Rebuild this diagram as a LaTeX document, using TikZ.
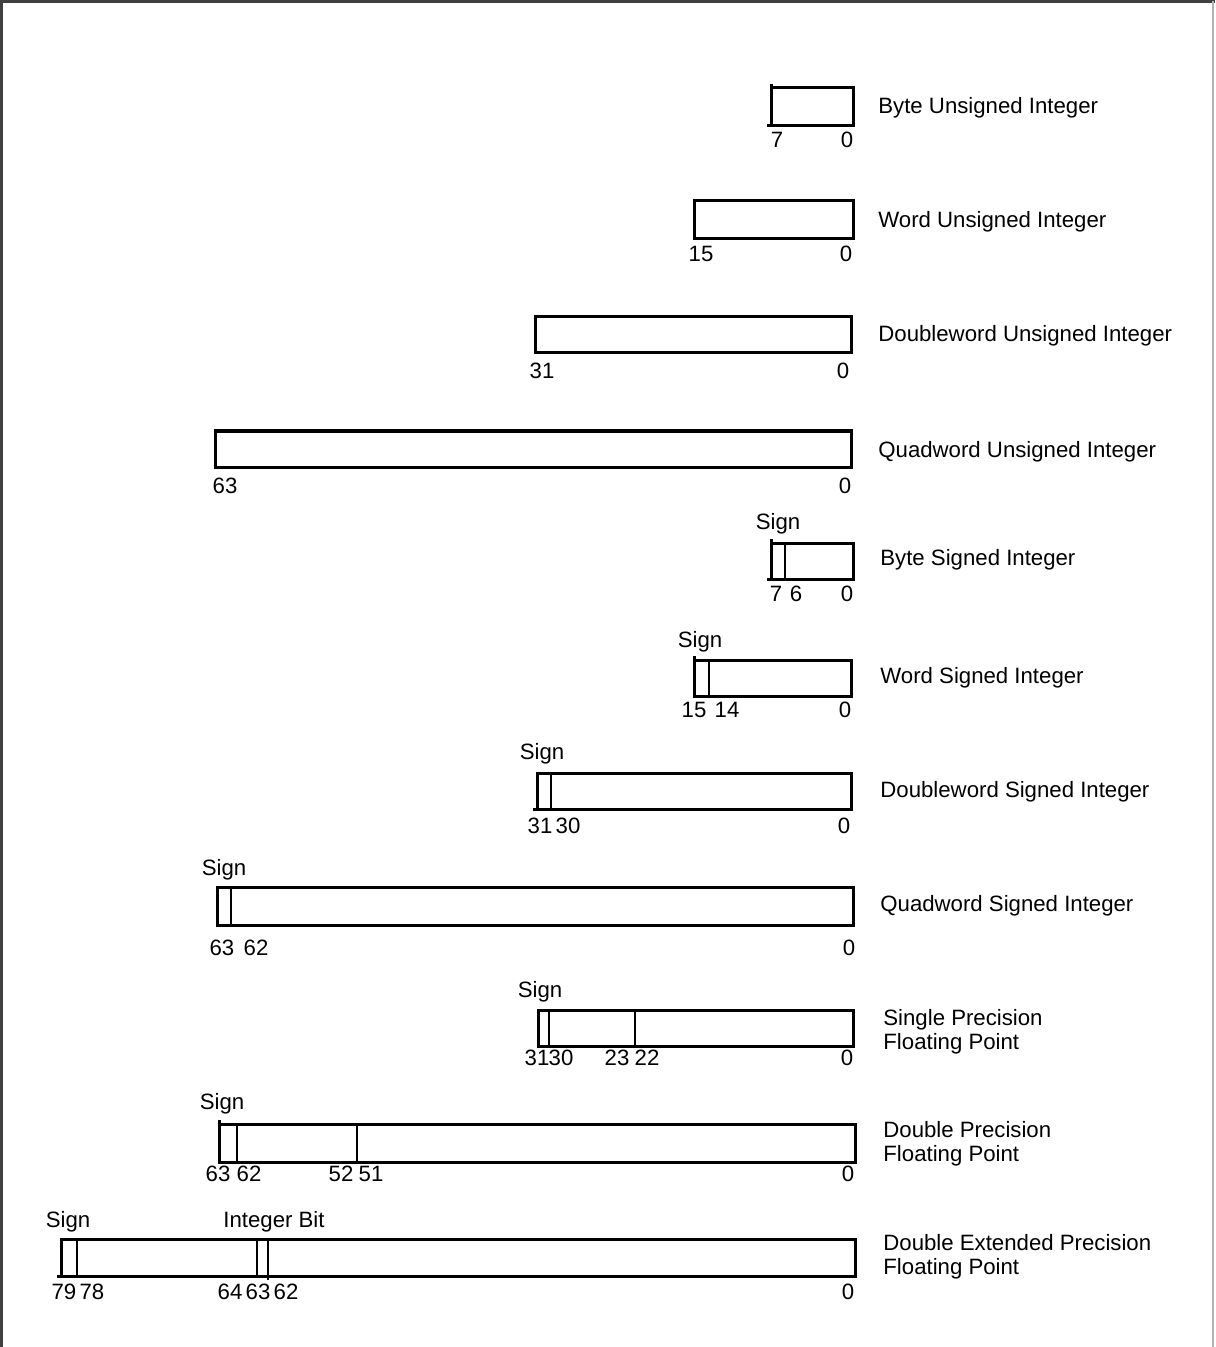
\documentclass[tikz,border=0pt]{standalone}
\usepackage{fontspec}
\setmainfont{Liberation Sans}
\usetikzlibrary{positioning}
\definecolor{cframe}{HTML}{404040}
\definecolor{cframelight}{HTML}{B4B4B4}
\tikzset{
  every picture/.style={x=0.5pt, y=-0.5pt},
  every node/.style={font=\fontsize{11.1}{12}\selectfont, inner sep=0pt},
  field/.style={draw=black, line width=1.5pt},
  split/.style={draw=black, line width=0.8pt},
  bitno/.style={anchor=center},
  fname/.style={anchor=west, align=left, yshift=-1pt},
}
\begin{document}
\begin{tikzpicture}
  \useasboundingbox (0,0) rectangle (1215,1347);
  % page frame
  \draw[cframe, line width=1.5pt] (1,1347) -- (1,1.5) -- (1215,1.5);
  \draw[cframelight, line width=0.8pt] (1213,1.5) -- (1213,1347);

  % byte unsigned
  \draw[field] (771,88) rectangle (853,126);
  \draw[field] (771,84) -- (771,126) -- (767,126);
  \node[bitno] (bu7) at (777,140) {7};
  \node[bitno] (bu0) at (847,140) {0};
  \node[fname] (bu) at (878,106) {Byte Unsigned Integer};

  % word unsigned
  \draw[field] (694,201) rectangle (853,239);
  \node[bitno] (wu15) at (701,254) {15};
  \node[bitno] (wu0) at (846,254) {0};
  \node[fname] (wu) at (878,220) {Word Unsigned Integer};

  % doubleword unsigned
  \draw[field] (535,317) rectangle (851,353);
  \node[bitno] (du31) at (542,371) {31};
  \node[bitno] (du0) at (843,371) {0};
  \node[fname] (du) at (878,334) {Doubleword Unsigned Integer};

  % quadword unsigned
  \draw[field] (215,431) rectangle (851,467);
  \node[bitno] (qu63) at (225,486) {63};
  \node[bitno] (qu0) at (845,486) {0};
  \node[fname] (qu) at (878,450) {Quadword Unsigned Integer};

  % byte signed
  \draw[field] (771,543) rectangle (853,579);
  \draw[field] (771,539) -- (771,579) -- (767,579);
  \draw[split] (785,543) -- (785,579);
  \node[bitno] (bssign) at (778,524) {Sign};
  \node[bitno] (bs7) at (776,594) {7};
  \node[bitno] (bs6) at (796,594) {6};
  \node[bitno] (bs0) at (847,594) {0};
  \node[fname] (bs) at (880,558) {Byte Signed Integer};

  % word signed
  \draw[field] (694,660) rectangle (851,696);
  \draw[field] (694,656) -- (694,696);
  \draw[split] (709,660) -- (709,696);
  \node[bitno] (wssign) at (700,642) {Sign};
  \node[bitno] (ws15) at (694,710) {15};
  \node[bitno] (ws14) at (727,710) {14};
  \node[bitno] (ws0) at (845,710) {0};
  \node[fname] (ws) at (880,676) {Word Signed Integer};

  % doubleword signed
  \draw[field] (537,773) rectangle (851,809);
  \draw[field] (537,809) -- (533,809);
  \draw[split] (551,773) -- (551,809);
  \node[bitno] (dssign) at (542,754) {Sign};
  \node[bitno] (ds31) at (540,826) {31};
  \node[bitno] (ds30) at (568,826) {30};
  \node[bitno] (ds0) at (844,826) {0};
  \node[fname] (ds) at (880,790) {Doubleword Signed Integer};

  % quadword signed
  \draw[field] (217,887) rectangle (853,925);
  \draw[split] (231,887) -- (231,925);
  \node[bitno] (qssign) at (224,870) {Sign};
  \node[bitno] (qs63) at (222,948) {63};
  \node[bitno] (qs62) at (256,948) {62};
  \node[bitno] (qs0) at (849,948) {0};
  \node[fname] (qs) at (880,904) {Quadword Signed Integer};

  % single precision
  \draw[field] (538,1010) rectangle (853,1046);
  \draw[split] (549,1010) -- (549,1046);
  \draw[split] (635,1010) -- (635,1046);
  \node[bitno] (spsign) at (540,992) {Sign};
  \node[bitno] (sp31) at (537,1058) {31};
  \node[bitno] (sp30) at (561,1058) {30};
  \node[bitno] (sp23) at (617,1058) {23};
  \node[bitno] (sp22) at (647,1058) {22};
  \node[bitno] (sp0) at (847,1058) {0};
  \node[fname] (sp) at (883,1030) {Single Precision\\Floating Point};

  % double precision
  \draw[field] (219,1124) rectangle (855,1162);
  \draw[field] (219,1120) -- (219,1162);
  \draw[split] (237,1124) -- (237,1162);
  \draw[split] (357,1124) -- (357,1162);
  \node[bitno] (dpsign) at (222,1104) {Sign};
  \node[bitno] (dp63) at (218,1174) {63};
  \node[bitno] (dp62) at (249,1174) {62};
  \node[bitno] (dp52) at (341,1174) {52};
  \node[bitno] (dp51) at (371,1174) {51};
  \node[bitno] (dp0) at (848,1174) {0};
  \node[fname] (dp) at (883,1142) {Double Precision\\Floating Point};

  % double extended precision
  \draw[field] (61,1239) rectangle (855,1276);
  \draw[field] (61,1276) -- (57,1276);
  \draw[split] (77,1239) -- (77,1276);
  \draw[split] (257,1239) -- (257,1276);
  \draw[split] (268,1239) -- (268,1280);
  \node[bitno] (epsign) at (68,1222) {Sign};
  \node[bitno] (epint) at (274,1222) {Integer Bit};
  \node[bitno] (ep79) at (64,1292) {79};
  \node[bitno] (ep78) at (92,1292) {78};
  \node[bitno] (ep64) at (230,1292) {64};
  \node[bitno] (ep63) at (258,1292) {63};
  \node[bitno] (ep62) at (286,1292) {62};
  \node[bitno] (ep0) at (848,1292) {0};
  \node[fname] (ep) at (883,1255) {Double Extended Precision\\Floating Point};
\end{tikzpicture}
\end{document}
